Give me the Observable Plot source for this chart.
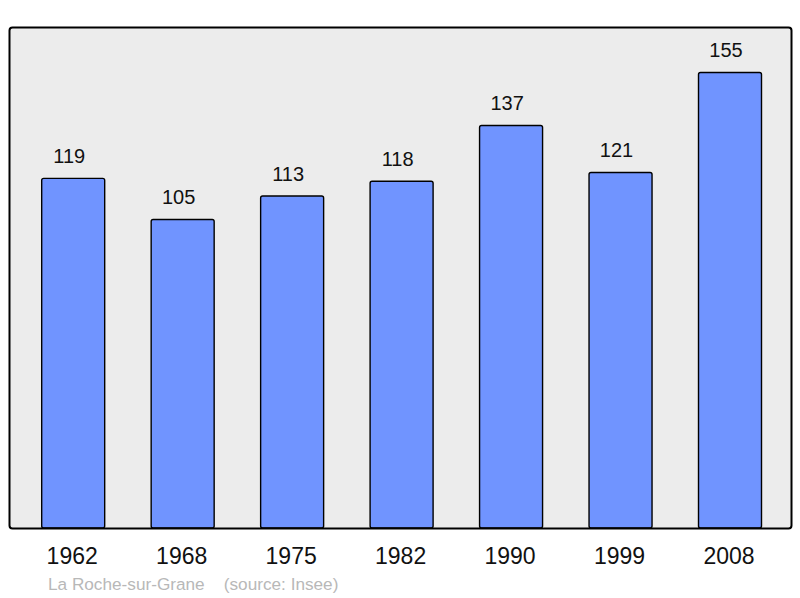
<!DOCTYPE html>
<html>
<head>
<meta charset="utf-8">
<script src="https://cdn.jsdelivr.net/npm/d3@7"></script>
<script src="https://cdn.jsdelivr.net/npm/@observablehq/plot@0.6"></script>
<style>
  html, body { margin: 0; padding: 0; background: #ffffff; }
  #chart { width: 800px; height: 598px; position: relative; }
  #caption { position: absolute; left: 48px; top: 575.5px; font-family: "Liberation Sans", Arial, sans-serif; font-size: 17.2px; line-height: 17px; color: #b8b8b8; white-space: pre; }
</style>
</head>
<body>
<div id="chart"></div>
<script>
const years = ["1962", "1968", "1975", "1982", "1990", "1999", "2008"];
const population = [119, 105, 113, 118, 137, 121, 155];
const caption = "La Roche-sur-Grane    (source: Insee)";

const data = years.map((y, i) => ({year: y, pop: population[i]}));

const chart = Plot.plot({
  width: 800,
  height: 598,
  marginTop: 27,
  marginBottom: 70,
  marginLeft: 9,
  marginRight: 9,
  style: {fontFamily: "Liberation Sans, Arial, sans-serif", background: "#ffffff"},
  x: {domain: years, range: [19.8, 783.4], paddingInner: 0.4245, paddingOuter: 0.2, round: false, axis: null},
  y: {domain: [0, 170.5], axis: null},
  marks: [
    Plot.frame({fill: "#ececec", stroke: "none", rx: 3}),
    Plot.barY(data, {x: "year", y: "pop", fill: "#7094ff", stroke: "#000000", strokeWidth: 1.4, rx: 2}),
    Plot.frame({stroke: "#000000", strokeWidth: 2, rx: 3}),
    Plot.text(data, {x: "year", y: "pop", text: d => String(d.pop), dx: -4.5, dy: -22, fontSize: 20, fill: "#111111", lineAnchor: "middle"}),
    Plot.text(data, {x: "year", y: 0, text: "year", dx: -1.5, dy: 28, fontSize: 23, fill: "#111111", lineAnchor: "middle"})
  ]
});
document.getElementById("chart").appendChild(chart);
const cap = document.createElement("div");
cap.id = "caption";
cap.textContent = caption;
document.getElementById("chart").appendChild(cap);
</script>
</body>
</html>
